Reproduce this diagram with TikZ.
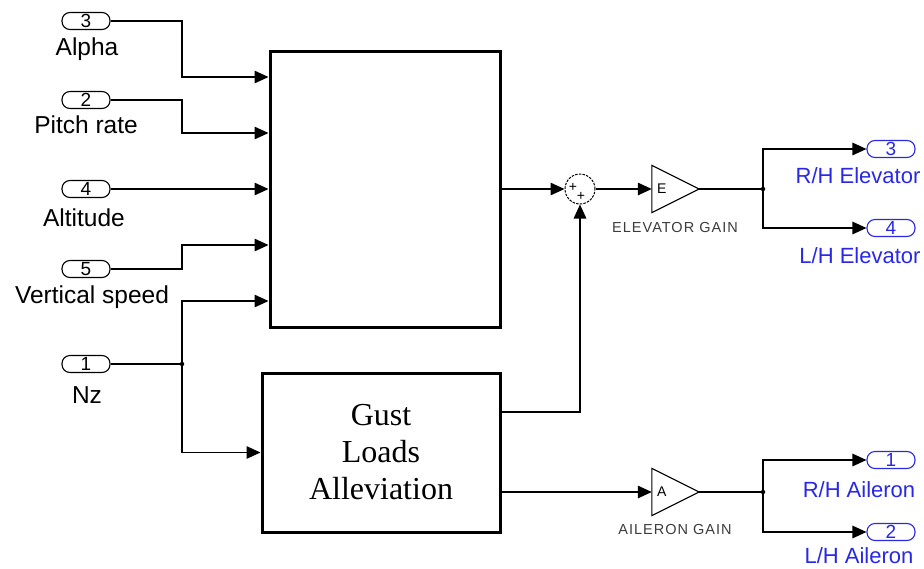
\documentclass[tikz,border=0pt]{standalone}
\usepackage{fontspec}
\setmainfont{Liberation Sans}
\newfontfamily\glafont{Liberation Serif}
\usetikzlibrary{arrows.meta,calc}
\definecolor{portblue}{RGB}{40,40,230}
\definecolor{gaintext}{RGB}{60,60,60}
\begin{document}
\begin{tikzpicture}[x=1pt,y=-1pt,
  sig/.style={line width=1.4pt},
  arr/.style={sig,-{Triangle[length=14pt,width=12.5pt]}},
  blk/.style={draw,line width=3pt,inner sep=0},
  inport/.style={draw,rounded corners=8pt,minimum width=48pt,minimum height=17pt,inner sep=0,line width=1.1pt,font={\fontsize{19}{19}\selectfont}},
  outport/.style={inport,draw=portblue,text=portblue},
  inlab/.style={font={\fontsize{24.5}{26}\selectfont},inner sep=0,anchor=base},
  outlab/.style={font={\fontsize{22}{24}\selectfont},text=portblue,inner sep=0,anchor=base},
  gainlab/.style={font={\fontsize{14.5}{16}\selectfont\addfontfeature{LetterSpace=7}},text=gaintext,inner sep=0,anchor=base},
  gainbox/.style={minimum width=47pt,minimum height=47pt,inner sep=0},
  gaintri/.style={line width=1.1pt},
  gainsym/.style={font={\fontsize{14}{14}\selectfont},inner sep=0,anchor=west},
  junc/.style={circle,fill,inner sep=0,minimum size=4.5pt},
]
\fill[white] (0,0) rectangle (924,568);
\useasboundingbox (0,0) rectangle (924,568);

% input ports
\node[inport] (p3) at (86,21) {3};
\node[inport] (p2) at (86,100) {2};
\node[inport] (p4) at (86,189) {4};
\node[inport] (p5) at (86,269) {5};
\node[inport] (p1) at (86,364) {1};
\node[inlab] (l3) at (87,55) {Alpha};
\node[inlab] (l2) at (86,133) {Pitch rate};
\node[inlab] (l4) at (84,226) {Altitude};
\node[inlab] (l5) at (92,303) {Vertical speed};
\node[inlab] (l1) at (87,403) {Nz};

% blocks
\node[blk,minimum width=230pt,minimum height=276pt] (main) at (385,189) {};
\node[blk,minimum width=238pt,minimum height=159pt,align=center,
      font={\glafont\fontsize{32}{37}\selectfont}] (gla) at (381,452.5) {Gust\\Loads\\Alleviation};

\coordinate (mi1) at (268.5,77);
\coordinate (mi2) at (268.5,133);
\coordinate (mi3) at (268.5,189);
\coordinate (mi4) at (268.5,245);
\coordinate (mi5) at (268.5,301);
\coordinate (go1) at (501.5,412);
\coordinate (go2) at (501.5,492);

% sum
\node[draw,circle,minimum size=30pt,inner sep=0,line width=1pt,dash pattern=on 2.5pt off 1.2pt] (sum) at (580,189) {};
\node[font={\fontsize{14}{14}\selectfont},inner sep=0] (s1) at (573,187) {+};
\node[font={\fontsize{14}{14}\selectfont},inner sep=0] (s2) at (581,196) {+};

% gains
\node[gainbox] (eg) at (675.5,189) {};
\draw[gaintri] (eg.north west) -- (eg.east) -- (eg.south west) -- cycle;
\node[gainsym] (egs) at ([xshift=5pt]eg.west) {E};
\node[gainlab] (egl) at (675,232) {ELEVATOR GAIN};

\node[gainbox] (ga) at (675.5,492) {};
\draw[gaintri] (ga.north west) -- (ga.east) -- (ga.south west) -- cycle;
\node[gainsym] (gas) at ([xshift=5pt]ga.west) {A};
\node[gainlab] (gal) at (675,534) {AILERON GAIN};

% junctions
\node[junc] (j1) at (182,364) {};
\node[junc] (j2) at (763,189) {};
\node[junc] (j3) at (763,492) {};

% output ports
\node[outport] (o3) at (891,149) {3};
\node[outport] (o4) at (891,228) {4};
\node[outport] (o1) at (891,460) {1};
\node[outport] (o2) at (891,532) {2};
\node[outlab] (lo3) at (858,183) {R/H Elevator};
\node[outlab] (lo4) at (860,263) {L/H Elevator};
\node[outlab] (lo1) at (859,497) {R/H Aileron};
\node[outlab] (lo2) at (859,563) {L/H Aileron};

% connectors
\draw[arr] (p3.east) -| (j1 |- mi1) -- (mi1);
\draw[arr] (p2.east) -| (j1 |- mi2) -- (mi2);
\draw[arr] (p4.east) -- (mi3);
\draw[arr] (p5.east) -| (j1 |- mi4) -- (mi4);
\draw[sig] (p1.east) -- (j1);
\draw[arr] (j1.center) |- (mi5);
\draw[arr] (j1.center) |- (gla.west);

\draw[arr] (main.east) -- (sum.west);
\draw[arr] (go1) -| (sum.south);
\draw[arr] (sum.east) -- (eg.west);
\draw[sig] (eg.east) -- (j2.center);
\draw[arr] (j2.center) |- (o3.west);
\draw[arr] (j2.center) |- (o4.west);

\draw[arr] (go2) -- (ga.west);
\draw[sig] (ga.east) -- (j3.center);
\draw[arr] (j3.center) |- (o1.west);
\draw[arr] (j3.center) |- (o2.west);
\end{tikzpicture}
\end{document}
